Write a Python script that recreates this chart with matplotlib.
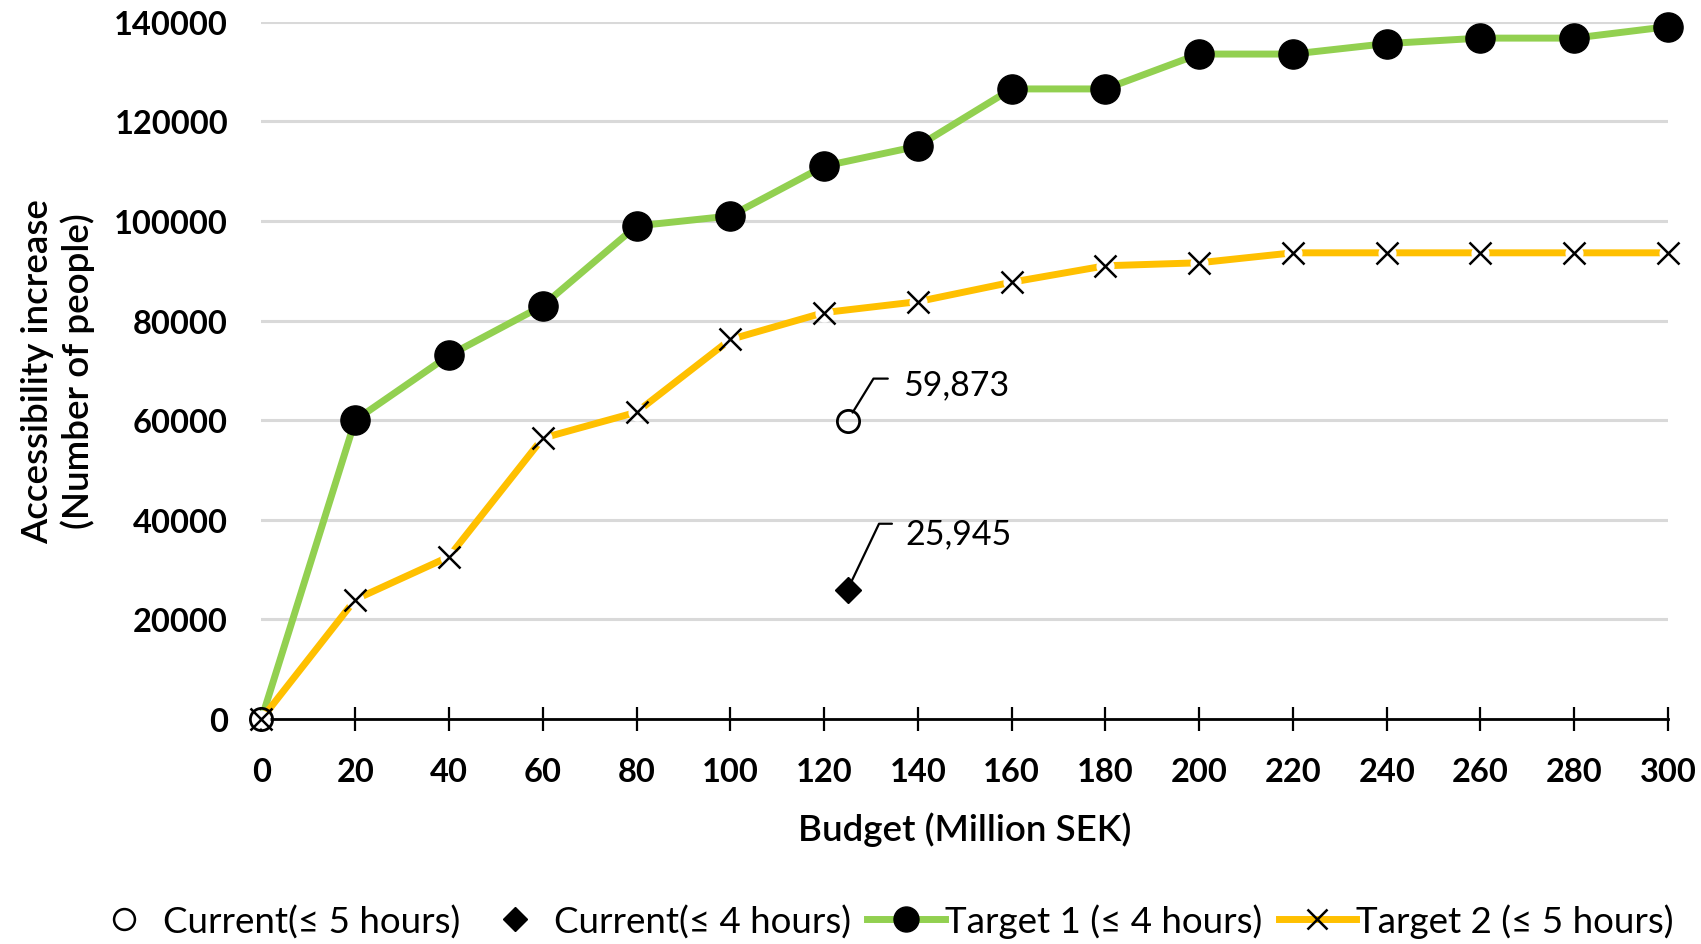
import numpy as np
import matplotlib
matplotlib.use("Agg")
import matplotlib.pyplot as plt
from matplotlib.lines import Line2D

plt.rcParams['font.family'] = ['Lato', 'DejaVu Sans']

budget = [0, 20, 40, 60, 80, 100, 120, 140, 160, 180, 200, 220, 240, 260, 280, 300]
target1 = [0, 60000, 73000, 83000, 99000, 101000, 111000, 115000, 126500, 126500,
           133500, 133500, 135600, 136700, 136700, 139000]
target2 = [0, 24000, 32600, 56400, 61600, 76200, 81600, 83800, 87700, 91000,
           91600, 93600, 93600, 93600, 93600, 93600]
current5_x = [0, 125]
current5_y = [0, 59873]
current4_x = [125]
current4_y = [25945]
yticks = [0, 20000, 40000, 60000, 80000, 100000, 120000, 140000]
xticks = budget

GREEN = '#92D050'
YELLOW = '#FFC000'

fig = plt.figure(figsize=(17.01, 9.45), dpi=100)
ax = fig.add_axes([0.1537, 0.238, 0.9806 - 0.1537, 0.976 - 0.238])

ax.set_xlim(0, 300)
ax.set_ylim(0, 140000)
ax.set_yticks(yticks)
ax.set_xticks(xticks)
ax.grid(axis='y', color='#d9d9d9', linewidth=2.2, zorder=0)
ax.set_axisbelow(True)
for s in ['left', 'top', 'right']:
    ax.spines[s].set_visible(False)
ax.spines['bottom'].set_linewidth(2.0)
ax.spines['bottom'].set_zorder(1)
ax.tick_params(axis='y', length=0, pad=24, labelsize=23.5)
ax.tick_params(axis='x', direction='inout', length=17, width=1.6, pad=19, labelsize=23.5)
for lab in ax.get_xticklabels() + ax.get_yticklabels():
    lab.set_fontweight('bold')

LW = 5.0
# Target 1
ax.plot(budget, target1, color=GREEN, linewidth=LW, zorder=3, clip_on=False)
ax.plot(budget[1:], target1[1:], linestyle='none', marker='o', markersize=21,
        color='black', zorder=4, clip_on=False)
# Target 2
ax.plot(budget, target2, color=YELLOW, linewidth=LW, zorder=3, clip_on=False)
ax.plot(budget, target2, linestyle='none', marker='o', markersize=12,
        color='white', zorder=3.5, clip_on=False)
ax.plot(budget, target2, linestyle='none', marker='x', markersize=16, mew=1.8,
        color='black', zorder=4, clip_on=False)
# Current
ax.plot(current5_x, current5_y, linestyle='none', marker='o', markersize=16,
        markerfacecolor='none', markeredgecolor='black', mew=2.0, zorder=5, clip_on=False)
ax.plot(current4_x, current4_y, linestyle='none', marker='D', markersize=13,
        color='black', zorder=5, clip_on=False)

# Leader annotations
def leader(x, y, corner, end, text_off, label, shrink):
    ang = np.degrees(np.arctan2(corner[1], corner[0]))
    ax.annotate('', xy=(x, y), xytext=end, textcoords='offset points',
                arrowprops=dict(arrowstyle='-', color='black', lw=1.6,
                                shrinkA=0, shrinkB=shrink,
                                connectionstyle=f'angle,angleA=0,angleB={ang:.1f},rad=0'))
    ax.annotate(label, xy=(x, y), xytext=text_off, textcoords='offset points',
                ha='left', va='center', fontsize=24.5)

leader(current5_x[1], current5_y[1], (18.7, 30.4), (29, 30.4), (40, 26), f'{current5_y[1]:,}', 7)
leader(current4_x[0], current4_y[0], (22.7, 47.6), (32, 47.6), (42, 41), f'{current4_y[0]:,}', 5)

ax.set_xlabel('Budget (Million SEK)', fontsize=26.5, fontweight='semibold', labelpad=18)
ax.set_ylabel('Accessibility increase\n(Number of people)', fontsize=26.5,
              fontweight='semibold', labelpad=14, linespacing=1.2)

handles = [
    Line2D([], [], linestyle='none', marker='o', markersize=15, markerfacecolor='none',
           markeredgecolor='black', mew=1.8),
    Line2D([], [], linestyle='none', marker='D', markersize=12, color='black'),
    Line2D([], [], color=GREEN, linewidth=LW, marker='o', markersize=18,
           markerfacecolor='black', markeredgecolor='black'),
    Line2D([], [], color=YELLOW, linewidth=LW, marker='x', markersize=15, mew=1.8,
           markeredgecolor='black'),
]
labels = ['Current(≤ 5 hours)', 'Current(≤ 4 hours)', 'Target 1 (≤ 4 hours)', 'Target 2 (≤ 5 hours)']
fig.legend(handles, labels, loc='center', bbox_to_anchor=(0.517, 1 - 922 / 945), ncol=4,
           frameon=False, fontsize=26.5, handlelength=2.1, handletextpad=0.0, columnspacing=0.45,
           borderpad=0.1)

fig.savefig('out.png', dpi=100)
